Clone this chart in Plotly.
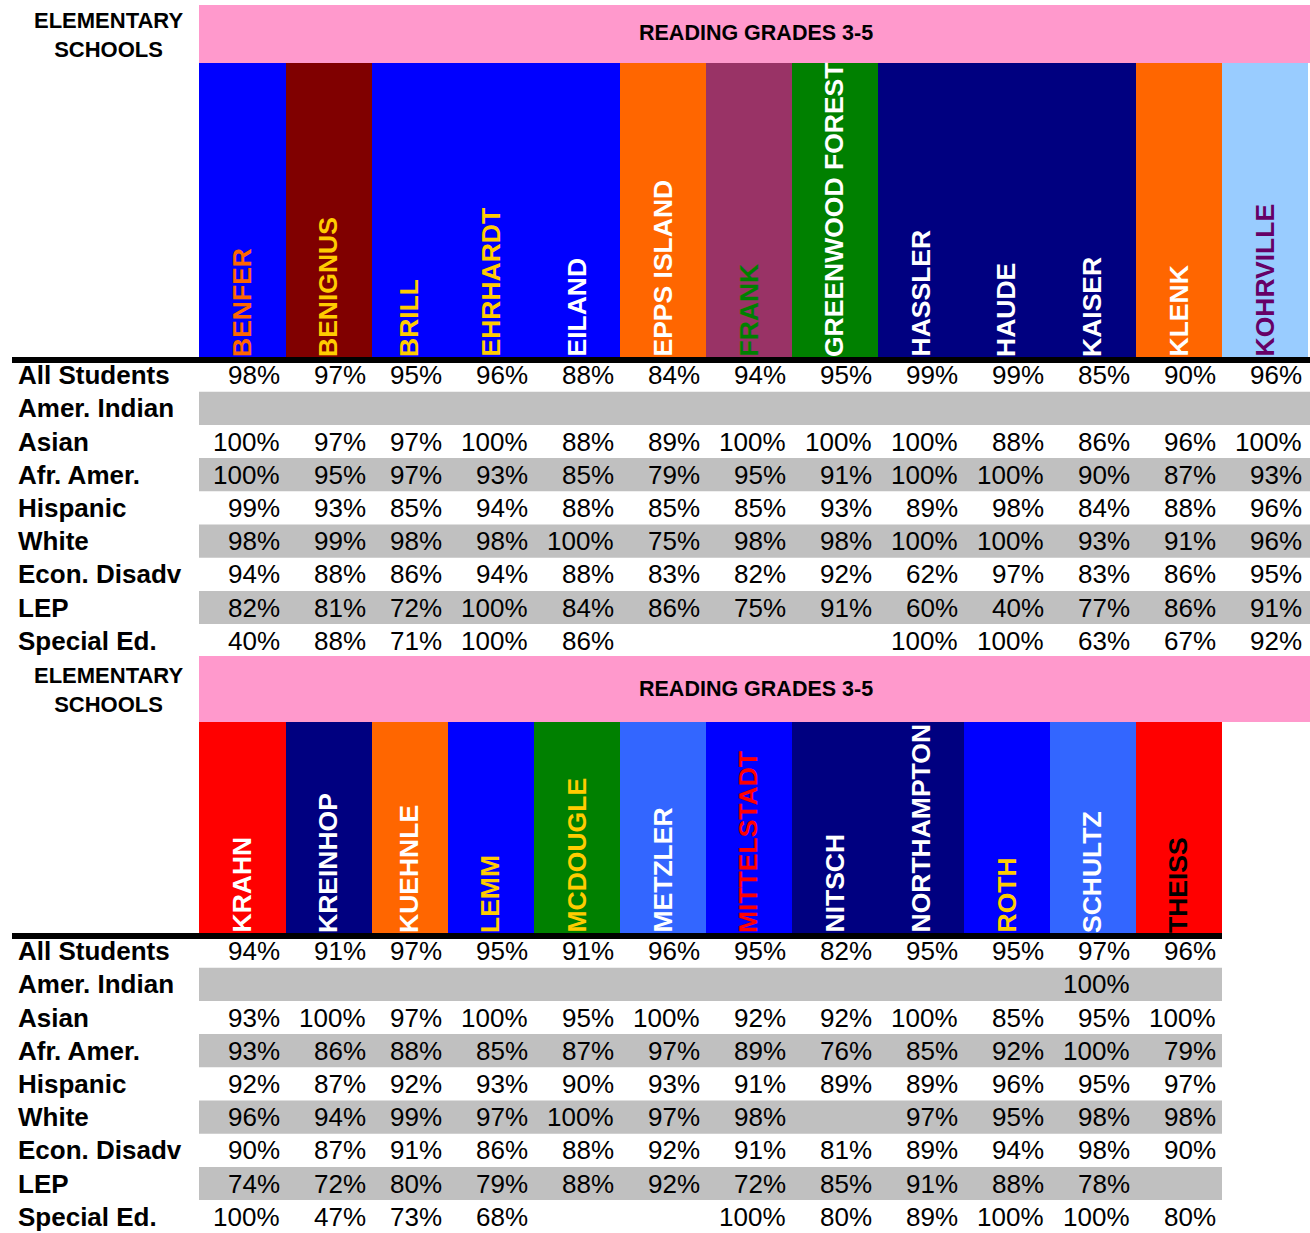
import plotly.graph_objects as go

FONT = "Liberation Sans, Arial, sans-serif"

# ---------------- data ----------------
row_labels = ["All Students", "Amer. Indian", "Asian", "Afr. Amer.", "Hispanic",
              "White", "Econ. Disadv", "LEP", "Special Ed."]
left_header = "ELEMENTARY<br>SCHOOLS"
title = "READING GRADES 3-5"

schools_1 = ["BENFER", "BENIGNUS", "BRILL", "EHRHARDT", "EILAND", "EPPS ISLAND", "FRANK",
             "GREENWOOD FOREST", "HASSLER", "HAUDE", "KAISER", "KLENK", "KOHRVILLE"]
all_students_1 = [98, 97, 95, 96, 88, 84, 94, 95, 99, 99, 85, 90, 96]
amer_indian_1 = [None, None, None, None, None, None, None, None, None, None, None, None, None]
asian_1 = [100, 97, 97, 100, 88, 89, 100, 100, 100, 88, 86, 96, 100]
afr_amer_1 = [100, 95, 97, 93, 85, 79, 95, 91, 100, 100, 90, 87, 93]
hispanic_1 = [99, 93, 85, 94, 88, 85, 85, 93, 89, 98, 84, 88, 96]
white_1 = [98, 99, 98, 98, 100, 75, 98, 98, 100, 100, 93, 91, 96]
econ_disadv_1 = [94, 88, 86, 94, 88, 83, 82, 92, 62, 97, 83, 86, 95]
lep_1 = [82, 81, 72, 100, 84, 86, 75, 91, 60, 40, 77, 86, 91]
special_ed_1 = [40, 88, 71, 100, 86, None, None, None, 100, 100, 63, 67, 92]

schools_2 = ["KRAHN", "KREINHOP", "KUEHNLE", "LEMM", "MCDOUGLE", "METZLER", "MITTELSTADT",
             "NITSCH", "NORTHAMPTON", "ROTH", "SCHULTZ", "THEISS"]
all_students_2 = [94, 91, 97, 95, 91, 96, 95, 82, 95, 95, 97, 96]
amer_indian_2 = [None, None, None, None, None, None, None, None, None, None, 100, None]
asian_2 = [93, 100, 97, 100, 95, 100, 92, 92, 100, 85, 95, 100]
afr_amer_2 = [93, 86, 88, 85, 87, 97, 89, 76, 85, 92, 100, 79]
hispanic_2 = [92, 87, 92, 93, 90, 93, 91, 89, 89, 96, 95, 97]
white_2 = [96, 94, 99, 97, 100, 97, 98, None, 97, 95, 98, 98]
econ_disadv_2 = [90, 87, 91, 86, 88, 92, 91, 81, 89, 94, 98, 90]
lep_2 = [74, 72, 80, 79, 88, 92, 72, 85, 91, 88, 78, None]
special_ed_2 = [100, 47, 73, 68, None, None, 100, 80, 89, 100, 100, 80]

# ---------------- styles ----------------
BLUE, MAROON, ORANGE, PLUM = "#0000FF", "#800000", "#FF6600", "#993366"
GREEN, NAVY, LBLUE, RED, MBLUE = "#008000", "#000080", "#99CCFF", "#FF0000", "#3366FF"
GOLD, WHITE, PURPLE, BLACK = "#FFCC00", "#FFFFFF", "#660066", "#000000"
PINK, GRAY = "#FF99CC", "#C0C0C0"

fill_1 = [BLUE, MAROON, BLUE, BLUE, BLUE, ORANGE, PLUM, GREEN, NAVY, NAVY, NAVY, ORANGE, LBLUE]
text_1 = [ORANGE, GOLD, GOLD, GOLD, WHITE, WHITE, GREEN, WHITE, WHITE, WHITE, WHITE, WHITE, PURPLE]
fill_2 = [RED, NAVY, ORANGE, BLUE, GREEN, MBLUE, BLUE, NAVY, NAVY, BLUE, MBLUE, RED]
text_2 = [WHITE, WHITE, WHITE, GOLD, GOLD, WHITE, RED, WHITE, WHITE, GOLD, WHITE, BLACK]

col_edges = [199, 286, 372, 448, 534, 620, 706, 792, 878, 964, 1050, 1136, 1222, 1308]

W, H = 1310, 1233
ROW_H = 33.2

panels = [
    dict(schools=schools_1, fill=fill_1, tcol=text_1,
         rows=[all_students_1, amer_indian_1, asian_1, afr_amer_1, hispanic_1,
               white_1, econ_disadv_1, lep_1, special_ed_1],
         pink=(5, 63), cols=(63, 357), line=(357, 363), row0=358.5,
         head_y=(21, 48), title_y=32.5),
    dict(schools=schools_2, fill=fill_2, tcol=text_2,
         rows=[all_students_2, amer_indian_2, asian_2, afr_amer_2, hispanic_2,
               white_2, econ_disadv_2, lep_2, special_ed_2],
         pink=(656, 722), cols=(722, 933), line=(933, 939), row0=934.5,
         head_y=(676, 703.5), title_y=688.5),
]

shapes = []
annotations = []

for p in panels:
    n = len(p["schools"])
    right = col_edges[n]
    table_right = W if n == 13 else right
    # pink title band
    shapes.append(dict(type="rect", xref="x", yref="y", x0=col_edges[0], x1=W,
                       y0=p["pink"][0], y1=p["pink"][1], fillcolor=PINK, line_width=0, layer="below"))
    annotations.append(dict(x=(col_edges[0] + W) / 2 + 1, y=p["title_y"], text="<b>%s</b>" % title,
                            showarrow=False, xanchor="center", yanchor="middle",
                            font=dict(family=FONT, size=21.5, color="black")))
    annotations.append(dict(x=108, y=(p["head_y"][0] + p["head_y"][1]) / 2, text="<b>%s</b>" % left_header,
                            showarrow=False, xanchor="center", yanchor="middle", align="center",
                            font=dict(family=FONT, size=22, color="black")))
    # school columns
    for i, name in enumerate(p["schools"]):
        x0, x1 = col_edges[i], col_edges[i + 1]
        shapes.append(dict(type="rect", xref="x", yref="y", x0=x0, x1=x1,
                           y0=p["cols"][0], y1=p["cols"][1], fillcolor=p["fill"][i],
                           line_width=0, layer="below"))
        annotations.append(dict(x=(x0 + x1) / 2 - 1, y=p["cols"][1] + 2, text="<b>%s</b>" % name,
                                textangle=-90, showarrow=False, xanchor="center", yanchor="bottom",
                                font=dict(family=FONT, size=26.5, color=p["tcol"][i])))
    # black rule
    shapes.append(dict(type="rect", xref="x", yref="y", x0=12, x1=table_right,
                       y0=p["line"][0], y1=p["line"][1], fillcolor="black", line_width=0))
    # rows
    for r, (label, vals) in enumerate(zip(row_labels, p["rows"])):
        top = p["row0"] + ROW_H * r
        cy = top + ROW_H / 2
        if r % 2 == 1:
            shapes.append(dict(type="rect", xref="x", yref="y", x0=col_edges[0], x1=table_right,
                               y0=top, y1=top + ROW_H, fillcolor=GRAY, line_width=0, layer="below"))
        annotations.append(dict(x=16, y=cy, text="<b>%s</b>" % label, showarrow=False,
                                xanchor="left", yanchor="middle",
                                font=dict(family=FONT, size=26, color="black")))
        for i, v in enumerate(vals):
            if v is None:
                continue
            annotations.append(dict(x=col_edges[i + 1] - 4, y=cy, text="%d%%" % v, showarrow=False,
                                    xanchor="right", yanchor="middle",
                                    font=dict(family=FONT, size=26, color="black")))

fig = go.Figure()
fig.add_trace(go.Scatter(x=[0, W], y=[0, H], mode="markers", marker=dict(opacity=0),
                         hoverinfo="skip", showlegend=False))
fig.update_layout(
    width=W, height=H, margin=dict(l=0, r=0, t=0, b=0),
    paper_bgcolor="white", plot_bgcolor="white",
    xaxis=dict(range=[0, W], visible=False, fixedrange=True),
    yaxis=dict(range=[H, 0], visible=False, fixedrange=True),
    shapes=shapes, annotations=annotations, showlegend=False,
)
fig.write_html("out.html", config={"displayModeBar": False, "responsive": False},
               post_script="document.body.style.margin='0';document.body.style.overflow='hidden';")
